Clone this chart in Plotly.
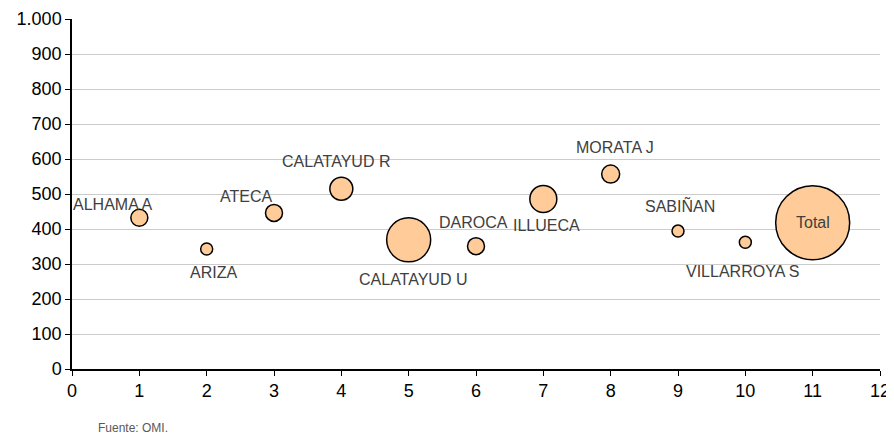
import plotly.graph_objects as go

# precio medio por zona (Fuente: OMI)
zonas = ["ALHAMA A", "ARIZA", "ATECA", "CALATAYUD R", "CALATAYUD U", "DAROCA",
         "ILLUECA", "MORATA J", "SABIÑAN", "VILLARROYA S", "Total"]
orden = [1, 2, 3, 4, 5, 6, 7, 8, 9, 10, 11]
precio = [432, 343, 446, 515, 369, 351, 486, 557, 394, 362, 418]
operaciones = [72, 36, 72, 132, 484, 72, 182, 81, 36, 36, 1369]

# desplazamiento de cada etiqueta respecto a su burbuja (px)
label_dx = [-27, 7, -28, -5, 4, -3, 3, 4, 2, -2, 0]
label_dy = [13, -24, 16, 27, -40, 24, -27, 27, 26, -29, 0]

max_diam = 74
fig = go.Figure(go.Scatter(
    x=orden, y=precio, mode="markers",
    marker=dict(size=operaciones, sizemode="area",
                sizeref=2.0 * max(operaciones) / max_diam ** 2,
                color="#FFCC99", opacity=1,
                line=dict(color="black", width=1.5)),
    hoverinfo="skip", showlegend=False, cliponaxis=False
))

for z, xv, yv, dx, dy in zip(zonas, orden, precio, label_dx, label_dy):
    fig.add_annotation(x=xv, y=yv, text=z, showarrow=False, xshift=dx, yshift=dy,
                       font=dict(size=16, color="#404040", family="Liberation Sans, Arial"))

fig.add_annotation(xref="paper", yref="paper", x=0.03, y=-0.169,
                   xanchor="left", yanchor="middle", text="Fuente: OMI.",
                   showarrow=False, font=dict(size=12, color="#595959"))

# la página añade 8 px de margen, por eso el lienzo es algo menor
fig.update_layout(
    width=886, height=433,
    margin=dict(l=64, r=14, t=11, b=72),
    paper_bgcolor="white", plot_bgcolor="white",
    separators=",.",
    font=dict(family="Liberation Sans, Arial", color="black", size=18),
    xaxis=dict(range=[0, 12], dtick=1, showgrid=False, zeroline=False,
               showline=True, linecolor="black", linewidth=1.5,
               ticks="outside", ticklen=5, tickcolor="black", automargin=False),
    yaxis=dict(range=[0, 1000], dtick=100, tickformat=",d",
               showgrid=True, gridcolor="#cccccc", gridwidth=1, zeroline=False,
               showline=True, linecolor="black", linewidth=1.5,
               ticks="outside", ticklen=5, tickcolor="black", automargin=False),
)

fig.write_html("out.html")
